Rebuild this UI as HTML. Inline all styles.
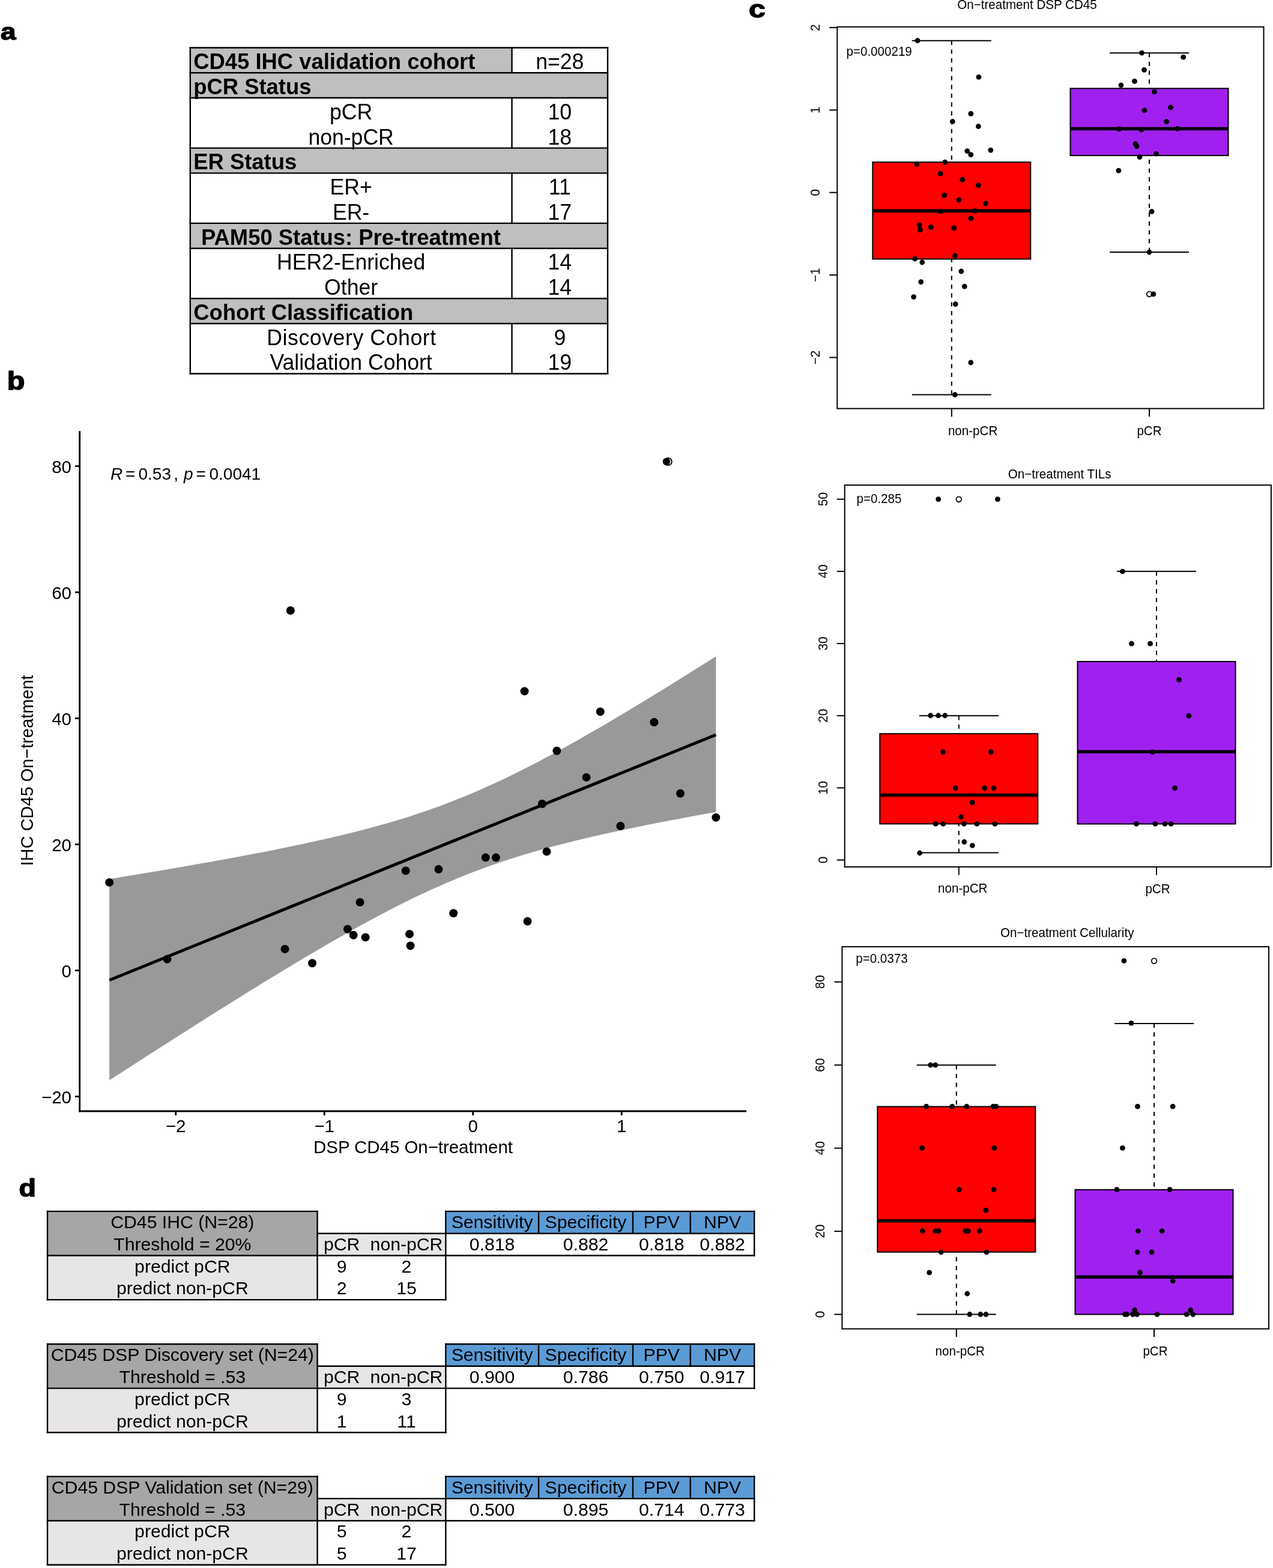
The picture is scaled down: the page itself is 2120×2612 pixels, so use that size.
<!DOCTYPE html>
<html><head><meta charset="utf-8"><title>Figure</title>
<style>
html,body{margin:0;padding:0;background:#fff;}
body{width:2120px;height:2612px;overflow:hidden;position:relative;}
svg{position:absolute;left:0;top:0;display:block;font-family:'Liberation Sans', Arial, Helvetica, sans-serif;}
</style></head><body>
<svg width="2120" height="2612" viewBox="0 0 2120 2612">
<rect x="0" y="0" width="2120" height="2612" fill="#fff"/>
<text x="0" y="0" font-size="44" font-weight="bold" stroke="#000" stroke-width="1.6" stroke-linejoin="round" transform="translate(1.0 66) scale(1.04 0.9)">a</text>
<text x="0" y="0" font-size="44" font-weight="bold" stroke="#000" stroke-width="1.6" stroke-linejoin="round" transform="translate(11.8 648.6) scale(1.1 0.955)">b</text>
<text x="0" y="0" font-size="44" font-weight="bold" stroke="#000" stroke-width="1.6" stroke-linejoin="round" transform="translate(1247.0 29.4) scale(1.13 0.92)">c</text>
<text x="0" y="0" font-size="44" font-weight="bold" stroke="#000" stroke-width="1.6" stroke-linejoin="round" transform="translate(31.6 1992.6) scale(1.06 0.935)">d</text>
<rect x="316.8" y="79.5" width="535.7" height="41.8" fill="#bfbfbf" stroke="none" stroke-width="0"/>
<rect x="316.8" y="121.3" width="695.2" height="41.8" fill="#bfbfbf" stroke="none" stroke-width="0"/>
<rect x="316.8" y="246.6" width="695.2" height="41.8" fill="#bfbfbf" stroke="none" stroke-width="0"/>
<rect x="316.8" y="371.9" width="695.2" height="41.8" fill="#bfbfbf" stroke="none" stroke-width="0"/>
<rect x="316.8" y="497.2" width="695.2" height="41.8" fill="#bfbfbf" stroke="none" stroke-width="0"/>
<line x1="315.6" y1="79.5" x2="1013.2" y2="79.5" stroke="#000" stroke-width="2.4" />
<line x1="315.6" y1="121.3" x2="1013.2" y2="121.3" stroke="#000" stroke-width="2.4" />
<line x1="315.6" y1="163.0" x2="1013.2" y2="163.0" stroke="#000" stroke-width="2.4" />
<line x1="315.6" y1="246.6" x2="1013.2" y2="246.6" stroke="#000" stroke-width="2.4" />
<line x1="315.6" y1="288.4" x2="1013.2" y2="288.4" stroke="#000" stroke-width="2.4" />
<line x1="315.6" y1="371.9" x2="1013.2" y2="371.9" stroke="#000" stroke-width="2.4" />
<line x1="315.6" y1="413.7" x2="1013.2" y2="413.7" stroke="#000" stroke-width="2.4" />
<line x1="315.6" y1="497.2" x2="1013.2" y2="497.2" stroke="#000" stroke-width="2.4" />
<line x1="315.6" y1="539.0" x2="1013.2" y2="539.0" stroke="#000" stroke-width="2.4" />
<line x1="315.6" y1="622.5" x2="1013.2" y2="622.5" stroke="#000" stroke-width="2.4" />
<line x1="316.8" y1="78.3" x2="316.8" y2="623.7" stroke="#000" stroke-width="2.4" />
<line x1="1012.0" y1="78.3" x2="1012.0" y2="623.7" stroke="#000" stroke-width="2.4" />
<line x1="852.5" y1="79.5" x2="852.5" y2="121.3" stroke="#000" stroke-width="2.4" />
<line x1="852.5" y1="163.0" x2="852.5" y2="246.6" stroke="#000" stroke-width="2.4" />
<line x1="852.5" y1="288.4" x2="852.5" y2="371.9" stroke="#000" stroke-width="2.4" />
<line x1="852.5" y1="413.7" x2="852.5" y2="497.2" stroke="#000" stroke-width="2.4" />
<line x1="852.5" y1="539.0" x2="852.5" y2="622.5" stroke="#000" stroke-width="2.4" />
<text x="322.3" y="115.3" font-size="36.4" text-anchor="start" font-weight="bold" fill="#000" transform="matrix(1 0 0 1.0 0 -0.00)" >CD45 IHC validation cohort</text>
<text x="932.3" y="115.3" font-size="35.6" text-anchor="middle" fill="#000" transform="matrix(1 0 0 1.045 0 -5.19)" >n=28</text>
<text x="322.3" y="157.0" font-size="36.4" text-anchor="start" font-weight="bold" fill="#000" transform="matrix(1 0 0 1.0 0 -0.00)" >pCR Status</text>
<text x="584.6" y="198.8" font-size="35.6" text-anchor="middle" fill="#000" transform="matrix(1 0 0 1.045 0 -8.95)" >pCR</text>
<text x="932.3" y="198.8" font-size="35.6" text-anchor="middle" fill="#000" transform="matrix(1 0 0 1.045 0 -8.95)" >10</text>
<text x="584.6" y="240.6" font-size="35.6" text-anchor="middle" fill="#000" transform="matrix(1 0 0 1.045 0 -10.83)" >non-pCR</text>
<text x="932.3" y="240.6" font-size="35.6" text-anchor="middle" fill="#000" transform="matrix(1 0 0 1.045 0 -10.83)" >18</text>
<text x="322.3" y="282.4" font-size="36.4" text-anchor="start" font-weight="bold" fill="#000" transform="matrix(1 0 0 1.0 0 -0.00)" >ER Status</text>
<text x="584.6" y="324.1" font-size="35.6" text-anchor="middle" fill="#000" transform="matrix(1 0 0 1.045 0 -14.59)" >ER+</text>
<text x="932.3" y="324.1" font-size="35.6" text-anchor="middle" fill="#000" transform="matrix(1 0 0 1.045 0 -14.59)" >11</text>
<text x="584.6" y="365.9" font-size="35.6" text-anchor="middle" fill="#000" transform="matrix(1 0 0 1.045 0 -16.47)" >ER-</text>
<text x="932.3" y="365.9" font-size="35.6" text-anchor="middle" fill="#000" transform="matrix(1 0 0 1.045 0 -16.47)" >17</text>
<text x="324.9" y="407.7" font-size="36.4" text-anchor="start" font-weight="bold" fill="#000" transform="matrix(1 0 0 1.0 0 -0.00)" > PAM50 Status: Pre-treatment</text>
<text x="584.6" y="449.4" font-size="35.6" text-anchor="middle" fill="#000" transform="matrix(1 0 0 1.045 0 -20.22)" >HER2-Enriched</text>
<text x="932.3" y="449.4" font-size="35.6" text-anchor="middle" fill="#000" transform="matrix(1 0 0 1.045 0 -20.22)" >14</text>
<text x="584.6" y="491.2" font-size="35.6" text-anchor="middle" fill="#000" transform="matrix(1 0 0 1.045 0 -22.10)" >Other</text>
<text x="932.3" y="491.2" font-size="35.6" text-anchor="middle" fill="#000" transform="matrix(1 0 0 1.045 0 -22.10)" >14</text>
<text x="322.3" y="533.0" font-size="36.4" text-anchor="start" font-weight="bold" fill="#000" transform="matrix(1 0 0 1.0 0 -0.00)" >Cohort Classification</text>
<text x="585.2" y="574.7" font-size="35.6" text-anchor="middle" fill="#000" transform="matrix(1 0 0 1.045 0 -25.86)" textLength="282" lengthAdjust="spacing">Discovery Cohort</text>
<text x="932.3" y="574.7" font-size="35.6" text-anchor="middle" fill="#000" transform="matrix(1 0 0 1.045 0 -25.86)" >9</text>
<text x="584.6" y="616.5" font-size="35.6" text-anchor="middle" fill="#000" transform="matrix(1 0 0 1.045 0 -27.74)" >Validation Cohort</text>
<text x="932.3" y="616.5" font-size="35.6" text-anchor="middle" fill="#000" transform="matrix(1 0 0 1.045 0 -27.74)" >19</text>
<polygon points="182.2,1464.2 195.0,1462.2 207.8,1460.1 220.6,1458.0 233.3,1455.8 246.1,1453.7 258.9,1451.6 271.7,1449.4 284.5,1447.2 297.3,1445.0 310.1,1442.8 322.8,1440.6 335.6,1438.3 348.4,1436.1 361.2,1433.8 374.0,1431.4 386.8,1429.1 399.6,1426.7 412.3,1424.3 425.1,1421.9 437.9,1419.4 450.7,1416.9 463.5,1414.3 476.3,1411.7 489.1,1409.1 501.9,1406.4 514.6,1403.6 527.4,1400.8 540.2,1398.0 553.0,1395.0 565.8,1392.0 578.6,1388.9 591.4,1385.7 604.1,1382.4 616.9,1379.0 629.7,1375.6 642.5,1371.9 655.3,1368.2 668.1,1364.4 680.9,1360.4 693.6,1356.2 706.4,1351.9 719.2,1347.5 732.0,1342.9 744.8,1338.1 757.6,1333.1 770.4,1328.0 783.1,1322.7 795.9,1317.3 808.7,1311.6 821.5,1305.8 834.3,1299.9 847.1,1293.8 859.9,1287.5 872.6,1281.1 885.4,1274.6 898.2,1267.9 911.0,1261.1 923.8,1254.2 936.6,1247.2 949.4,1240.1 962.2,1232.9 974.9,1225.6 987.7,1218.3 1000.5,1210.9 1013.3,1203.4 1026.1,1195.8 1038.9,1188.2 1051.7,1180.5 1064.4,1172.8 1077.2,1165.0 1090.0,1157.2 1102.8,1149.4 1115.6,1141.5 1128.4,1133.5 1141.2,1125.6 1153.9,1117.6 1166.7,1109.6 1179.5,1101.6 1192.3,1093.5 1192.3,1352.7 1179.5,1355.0 1166.7,1357.3 1153.9,1359.6 1141.2,1362.0 1128.4,1364.4 1115.6,1366.8 1102.8,1369.3 1090.0,1371.8 1077.2,1374.3 1064.4,1376.9 1051.7,1379.5 1038.9,1382.2 1026.1,1384.9 1013.3,1387.7 1000.5,1390.6 987.7,1393.5 974.9,1396.5 962.2,1399.5 949.4,1402.7 936.6,1405.9 923.8,1409.3 911.0,1412.7 898.2,1416.3 885.4,1420.0 872.6,1423.8 859.9,1427.7 847.1,1431.8 834.3,1436.1 821.5,1440.4 808.7,1445.0 795.9,1449.7 783.1,1454.6 770.4,1459.7 757.6,1464.9 744.8,1470.3 732.0,1475.9 719.2,1481.6 706.4,1487.5 693.6,1493.5 680.9,1499.7 668.1,1506.1 655.3,1512.6 642.5,1519.2 629.7,1526.0 616.9,1532.8 604.1,1539.8 591.4,1546.8 578.6,1554.0 565.8,1561.3 553.0,1568.6 540.2,1576.0 527.4,1583.5 514.6,1591.0 501.9,1598.6 489.1,1606.2 476.3,1614.0 463.5,1621.7 450.7,1629.5 437.9,1637.3 425.1,1645.2 412.3,1653.1 399.6,1661.1 386.8,1669.0 374.0,1677.0 361.2,1685.1 348.4,1693.1 335.6,1701.2 322.8,1709.3 310.1,1717.4 297.3,1725.5 284.5,1733.7 271.7,1741.9 258.9,1750.0 246.1,1758.2 233.3,1766.5 220.6,1774.7 207.8,1782.9 195.0,1791.2 182.2,1799.4" fill="#999999" stroke="none"/>
<line x1="182.2" y1="1632.7" x2="1192.3" y2="1224.0" stroke="#000" stroke-width="5.0"/>
<circle cx="182.2" cy="1469.9" r="7" fill="#000"/>
<circle cx="278.5" cy="1597.7" r="7" fill="#000"/>
<circle cx="474.5" cy="1580.9" r="7" fill="#000"/>
<circle cx="483.8" cy="1017.0" r="7" fill="#000"/>
<circle cx="520.0" cy="1604.5" r="7" fill="#000"/>
<circle cx="578.9" cy="1547.7" r="7" fill="#000"/>
<circle cx="588.6" cy="1557.8" r="7" fill="#000"/>
<circle cx="599.5" cy="1503.0" r="7" fill="#000"/>
<circle cx="608.6" cy="1561.4" r="7" fill="#000"/>
<circle cx="675.7" cy="1450.5" r="7" fill="#000"/>
<circle cx="682.0" cy="1556.0" r="7" fill="#000"/>
<circle cx="683.5" cy="1575.4" r="7" fill="#000"/>
<circle cx="730.4" cy="1448.0" r="7" fill="#000"/>
<circle cx="755.2" cy="1521.2" r="7" fill="#000"/>
<circle cx="808.7" cy="1428.6" r="7" fill="#000"/>
<circle cx="825.9" cy="1428.6" r="7" fill="#000"/>
<circle cx="873.5" cy="1151.4" r="7" fill="#000"/>
<circle cx="878.5" cy="1534.7" r="7" fill="#000"/>
<circle cx="902.9" cy="1339.0" r="7" fill="#000"/>
<circle cx="910.5" cy="1418.6" r="7" fill="#000"/>
<circle cx="927.3" cy="1250.7" r="7" fill="#000"/>
<circle cx="976.5" cy="1294.9" r="7" fill="#000"/>
<circle cx="999.7" cy="1185.5" r="7" fill="#000"/>
<circle cx="1033.3" cy="1376.0" r="7" fill="#000"/>
<circle cx="1089.3" cy="1203.1" r="7" fill="#000"/>
<circle cx="1133.0" cy="1321.8" r="7" fill="#000"/>
<circle cx="1192.3" cy="1361.8" r="7" fill="#000"/>
<circle cx="1109.9" cy="769" r="6.2" fill="#000"/>
<circle cx="1112.7" cy="769" r="6.1" fill="none" stroke="#000" stroke-width="1.9"/>
<line x1="132.7" y1="718.0" x2="132.7" y2="1852.4" stroke="#000" stroke-width="2.8" />
<line x1="131.3" y1="1851.0" x2="1243.0" y2="1851.0" stroke="#000" stroke-width="2.8" />
<line x1="125.0" y1="776.6" x2="132.7" y2="776.6" stroke="#000" stroke-width="2.8" />
<text x="119.0" y="787.9" font-size="29.5" text-anchor="end" fill="#000" transform="matrix(1 0 0 1.0 0 -0.00)" >80</text>
<line x1="125.0" y1="986.6" x2="132.7" y2="986.6" stroke="#000" stroke-width="2.8" />
<text x="119.0" y="997.9" font-size="29.5" text-anchor="end" fill="#000" transform="matrix(1 0 0 1.0 0 -0.00)" >60</text>
<line x1="125.0" y1="1196.6" x2="132.7" y2="1196.6" stroke="#000" stroke-width="2.8" />
<text x="119.0" y="1207.9" font-size="29.5" text-anchor="end" fill="#000" transform="matrix(1 0 0 1.0 0 -0.00)" >40</text>
<line x1="125.0" y1="1406.6" x2="132.7" y2="1406.6" stroke="#000" stroke-width="2.8" />
<text x="119.0" y="1417.9" font-size="29.5" text-anchor="end" fill="#000" transform="matrix(1 0 0 1.0 0 -0.00)" >20</text>
<line x1="125.0" y1="1616.6" x2="132.7" y2="1616.6" stroke="#000" stroke-width="2.8" />
<text x="119.0" y="1627.9" font-size="29.5" text-anchor="end" fill="#000" transform="matrix(1 0 0 1.0 0 -0.00)" >0</text>
<line x1="125.0" y1="1826.6" x2="132.7" y2="1826.6" stroke="#000" stroke-width="2.8" />
<text x="119.0" y="1837.9" font-size="29.5" text-anchor="end" fill="#000" transform="matrix(1 0 0 1.0 0 -0.00)" >−20</text>
<line x1="292.7" y1="1851.0" x2="292.7" y2="1858.0" stroke="#000" stroke-width="2.8" />
<text x="292.7" y="1885.8" font-size="29.5" text-anchor="middle" fill="#000" transform="matrix(1 0 0 1.0 0 -0.00)" >−2</text>
<line x1="540.2" y1="1851.0" x2="540.2" y2="1858.0" stroke="#000" stroke-width="2.8" />
<text x="540.2" y="1885.8" font-size="29.5" text-anchor="middle" fill="#000" transform="matrix(1 0 0 1.0 0 -0.00)" >−1</text>
<line x1="787.7" y1="1851.0" x2="787.7" y2="1858.0" stroke="#000" stroke-width="2.8" />
<text x="787.7" y="1885.8" font-size="29.5" text-anchor="middle" fill="#000" transform="matrix(1 0 0 1.0 0 -0.00)" >0</text>
<line x1="1035.2" y1="1851.0" x2="1035.2" y2="1858.0" stroke="#000" stroke-width="2.8" />
<text x="1035.2" y="1885.8" font-size="29.5" text-anchor="middle" fill="#000" transform="matrix(1 0 0 1.0 0 -0.00)" >1</text>
<text x="688.0" y="1921.0" font-size="29.4" text-anchor="middle" fill="#000" transform="matrix(1 0 0 1.0 0 -0.00)" >DSP CD45 On−treatment</text>
<text x="55.4" y="1283.5" font-size="29.0" text-anchor="middle" transform="rotate(-90 55.4 1283.5) matrix(1 0 0 1.045 0 -57.76)">IHC CD45 On−treatment</text>
<text y="799" font-size="28"><tspan x="184" font-style="italic">R</tspan><tspan x="208.9">=</tspan><tspan x="230.5">0.53</tspan><tspan x="289.3">,</tspan><tspan x="305.9" font-style="italic">p</tspan><tspan x="326.6">=</tspan><tspan x="348.5">0.0041</tspan></text>
<line x1="1584.8" y1="67.7" x2="1584.8" y2="270.1" stroke="#000" stroke-width="2" stroke-dasharray="7.2 7.5"/>
<line x1="1518.8" y1="67.7" x2="1650.8" y2="67.7" stroke="#000" stroke-width="2" />
<line x1="1584.8" y1="657.5" x2="1584.8" y2="431.5" stroke="#000" stroke-width="2" stroke-dasharray="7.2 7.5"/>
<line x1="1518.8" y1="657.5" x2="1650.8" y2="657.5" stroke="#000" stroke-width="2" />
<rect x="1453.3" y="270.1" width="263.0" height="161.4" fill="#ff0000" stroke="#000" stroke-width="2"/>
<line x1="1453.3" y1="351.3" x2="1716.3" y2="351.3" stroke="#000" stroke-width="5.5" />
<line x1="1914.0" y1="88.2" x2="1914.0" y2="147.3" stroke="#000" stroke-width="2" stroke-dasharray="7.2 7.5"/>
<line x1="1848.0" y1="88.2" x2="1980.0" y2="88.2" stroke="#000" stroke-width="2" />
<line x1="1914.0" y1="420.0" x2="1914.0" y2="259.1" stroke="#000" stroke-width="2" stroke-dasharray="7.2 7.5"/>
<line x1="1848.0" y1="420.0" x2="1980.0" y2="420.0" stroke="#000" stroke-width="2" />
<rect x="1782.5" y="147.3" width="263.0" height="111.8" fill="#a020f0" stroke="#000" stroke-width="2"/>
<line x1="1782.5" y1="214.5" x2="2045.5" y2="214.5" stroke="#000" stroke-width="5.5" />
<circle cx="1914.0" cy="490.0" r="4.3" fill="none" stroke="#000" stroke-width="1.8"/>
<circle cx="1528.1" cy="67.7" r="4.4" fill="#000"/>
<circle cx="1629.9" cy="128.3" r="4.4" fill="#000"/>
<circle cx="1616.8" cy="189.4" r="4.4" fill="#000"/>
<circle cx="1586.3" cy="202.5" r="4.4" fill="#000"/>
<circle cx="1629.4" cy="210.5" r="4.4" fill="#000"/>
<circle cx="1610.8" cy="251.6" r="4.4" fill="#000"/>
<circle cx="1616.8" cy="257.6" r="4.4" fill="#000"/>
<circle cx="1649.9" cy="250.1" r="4.4" fill="#000"/>
<circle cx="1526.6" cy="273.1" r="4.4" fill="#000"/>
<circle cx="1573.7" cy="270.1" r="4.4" fill="#000"/>
<circle cx="1566.2" cy="289.2" r="4.4" fill="#000"/>
<circle cx="1602.8" cy="299.2" r="4.4" fill="#000"/>
<circle cx="1629.4" cy="308.7" r="4.4" fill="#000"/>
<circle cx="1572.7" cy="325.2" r="4.4" fill="#000"/>
<circle cx="1596.8" cy="332.8" r="4.4" fill="#000"/>
<circle cx="1641.4" cy="338.8" r="4.4" fill="#000"/>
<circle cx="1566.2" cy="352.3" r="4.4" fill="#000"/>
<circle cx="1623.9" cy="351.3" r="4.4" fill="#000"/>
<circle cx="1531.1" cy="374.9" r="4.4" fill="#000"/>
<circle cx="1532.7" cy="382.9" r="4.4" fill="#000"/>
<circle cx="1550.2" cy="378.4" r="4.4" fill="#000"/>
<circle cx="1588.8" cy="379.9" r="4.4" fill="#000"/>
<circle cx="1616.8" cy="363.8" r="4.4" fill="#000"/>
<circle cx="1590.3" cy="426.0" r="4.4" fill="#000"/>
<circle cx="1523.6" cy="431.0" r="4.4" fill="#000"/>
<circle cx="1535.7" cy="437.0" r="4.4" fill="#000"/>
<circle cx="1600.8" cy="452.0" r="4.4" fill="#000"/>
<circle cx="1533.7" cy="469.6" r="4.4" fill="#000"/>
<circle cx="1606.3" cy="477.1" r="4.4" fill="#000"/>
<circle cx="1521.6" cy="494.6" r="4.4" fill="#000"/>
<circle cx="1591.3" cy="506.7" r="4.4" fill="#000"/>
<circle cx="1616.8" cy="603.9" r="4.4" fill="#000"/>
<circle cx="1590.3" cy="657.5" r="4.4" fill="#000"/>
<circle cx="1901.5" cy="88.2" r="4.4" fill="#000"/>
<circle cx="1970.7" cy="95.2" r="4.4" fill="#000"/>
<circle cx="1905.5" cy="116.3" r="4.4" fill="#000"/>
<circle cx="1889.5" cy="135.3" r="4.4" fill="#000"/>
<circle cx="1866.9" cy="141.8" r="4.4" fill="#000"/>
<circle cx="1922.6" cy="152.9" r="4.4" fill="#000"/>
<circle cx="1949.6" cy="178.9" r="4.4" fill="#000"/>
<circle cx="1906.0" cy="183.9" r="4.4" fill="#000"/>
<circle cx="1942.6" cy="202.5" r="4.4" fill="#000"/>
<circle cx="1863.9" cy="215.0" r="4.4" fill="#000"/>
<circle cx="1900.5" cy="216.0" r="4.4" fill="#000"/>
<circle cx="1960.6" cy="214.5" r="4.4" fill="#000"/>
<circle cx="1891.0" cy="239.6" r="4.4" fill="#000"/>
<circle cx="1893.0" cy="243.6" r="4.4" fill="#000"/>
<circle cx="1925.6" cy="256.1" r="4.4" fill="#000"/>
<circle cx="1898.0" cy="261.6" r="4.4" fill="#000"/>
<circle cx="1862.9" cy="284.2" r="4.4" fill="#000"/>
<circle cx="1918.0" cy="352.3" r="4.4" fill="#000"/>
<circle cx="1914.0" cy="420.0" r="4.4" fill="#000"/>
<circle cx="1920.8" cy="490.0" r="4.4" fill="#000"/>
<rect x="1394.3" y="44.8" width="710.2" height="635.8" fill="none" stroke="#000" stroke-width="2"/>
<line x1="1381.3" y1="595.5" x2="1394.3" y2="595.5" stroke="#000" stroke-width="2" />
<text x="1365.0" y="595.5" font-size="20.6" text-anchor="middle" transform="rotate(-90 1365.0 595.5) matrix(1 0 0 1.045 0 -26.80)">−2</text>
<line x1="1381.3" y1="458.1" x2="1394.3" y2="458.1" stroke="#000" stroke-width="2" />
<text x="1365.0" y="458.1" font-size="20.6" text-anchor="middle" transform="rotate(-90 1365.0 458.1) matrix(1 0 0 1.045 0 -20.61)">−1</text>
<line x1="1381.3" y1="320.7" x2="1394.3" y2="320.7" stroke="#000" stroke-width="2" />
<text x="1365.0" y="320.7" font-size="20.6" text-anchor="middle" transform="rotate(-90 1365.0 320.7) matrix(1 0 0 1.045 0 -14.43)">0</text>
<line x1="1381.3" y1="183.3" x2="1394.3" y2="183.3" stroke="#000" stroke-width="2" />
<text x="1365.0" y="183.3" font-size="20.6" text-anchor="middle" transform="rotate(-90 1365.0 183.3) matrix(1 0 0 1.045 0 -8.25)">1</text>
<line x1="1381.3" y1="45.9" x2="1394.3" y2="45.9" stroke="#000" stroke-width="2" />
<text x="1365.0" y="45.9" font-size="20.6" text-anchor="middle" transform="rotate(-90 1365.0 45.9) matrix(1 0 0 1.045 0 -2.07)">2</text>
<line x1="1584.8" y1="680.6" x2="1584.8" y2="694.1" stroke="#000" stroke-width="2" />
<line x1="1914.0" y1="680.6" x2="1914.0" y2="694.1" stroke="#000" stroke-width="2" />
<text x="1710.5" y="15.4" font-size="20.6" text-anchor="middle" fill="#000" transform="matrix(1 0 0 1.045 0 -0.69)" >On−treatment DSP CD45</text>
<text x="1409.5" y="92.7" font-size="20.6" text-anchor="start" fill="#000" transform="matrix(1 0 0 1.045 0 -4.17)" >p=0.000219</text>
<text x="1620.1" y="725.3" font-size="20.6" text-anchor="middle" fill="#000" transform="matrix(1 0 0 1.045 0 -32.64)" >non-pCR</text>
<text x="1914.0" y="725.5" font-size="20.6" text-anchor="middle" fill="#000" transform="matrix(1 0 0 1.045 0 -32.65)" >pCR</text>
<line x1="1596.8" y1="1192.2" x2="1596.8" y2="1222.2" stroke="#000" stroke-width="2" stroke-dasharray="7.2 7.5"/>
<line x1="1530.8" y1="1192.2" x2="1662.8" y2="1192.2" stroke="#000" stroke-width="2" />
<line x1="1596.8" y1="1420.6" x2="1596.8" y2="1372.5" stroke="#000" stroke-width="2" stroke-dasharray="7.2 7.5"/>
<line x1="1530.8" y1="1420.6" x2="1662.8" y2="1420.6" stroke="#000" stroke-width="2" />
<rect x="1465.3" y="1222.2" width="263.0" height="150.2" fill="#ff0000" stroke="#000" stroke-width="2"/>
<line x1="1465.3" y1="1324.4" x2="1728.3" y2="1324.4" stroke="#000" stroke-width="5.5" />
<line x1="1926.0" y1="951.8" x2="1926.0" y2="1102.0" stroke="#000" stroke-width="2" stroke-dasharray="7.2 7.5"/>
<line x1="1860.0" y1="951.8" x2="1992.0" y2="951.8" stroke="#000" stroke-width="2" />
<rect x="1794.5" y="1102.0" width="263.0" height="270.5" fill="#a020f0" stroke="#000" stroke-width="2"/>
<line x1="1794.5" y1="1252.3" x2="2057.5" y2="1252.3" stroke="#000" stroke-width="5.5" />
<circle cx="1596.8" cy="831.7" r="4.3" fill="none" stroke="#000" stroke-width="1.8"/>
<circle cx="1562.7" cy="831.7" r="4.4" fill="#000"/>
<circle cx="1661.4" cy="831.7" r="4.4" fill="#000"/>
<circle cx="1549.7" cy="1192.0" r="4.4" fill="#000"/>
<circle cx="1562.7" cy="1192.0" r="4.4" fill="#000"/>
<circle cx="1573.7" cy="1192.0" r="4.4" fill="#000"/>
<circle cx="1570.7" cy="1252.6" r="4.4" fill="#000"/>
<circle cx="1650.4" cy="1252.6" r="4.4" fill="#000"/>
<circle cx="1591.3" cy="1312.8" r="4.4" fill="#000"/>
<circle cx="1639.9" cy="1312.8" r="4.4" fill="#000"/>
<circle cx="1654.9" cy="1312.8" r="4.4" fill="#000"/>
<circle cx="1619.3" cy="1336.8" r="4.4" fill="#000"/>
<circle cx="1600.3" cy="1360.9" r="4.4" fill="#000"/>
<circle cx="1558.2" cy="1372.4" r="4.4" fill="#000"/>
<circle cx="1570.7" cy="1372.4" r="4.4" fill="#000"/>
<circle cx="1605.3" cy="1372.4" r="4.4" fill="#000"/>
<circle cx="1626.9" cy="1372.4" r="4.4" fill="#000"/>
<circle cx="1656.9" cy="1372.4" r="4.4" fill="#000"/>
<circle cx="1605.8" cy="1402.5" r="4.4" fill="#000"/>
<circle cx="1619.3" cy="1408.5" r="4.4" fill="#000"/>
<circle cx="1531.6" cy="1421.0" r="4.4" fill="#000"/>
<circle cx="1869.4" cy="951.9" r="4.4" fill="#000"/>
<circle cx="1884.5" cy="1072.2" r="4.4" fill="#000"/>
<circle cx="1915.5" cy="1072.2" r="4.4" fill="#000"/>
<circle cx="1963.6" cy="1132.4" r="4.4" fill="#000"/>
<circle cx="1979.7" cy="1192.5" r="4.4" fill="#000"/>
<circle cx="1919.5" cy="1252.6" r="4.4" fill="#000"/>
<circle cx="1956.6" cy="1312.8" r="4.4" fill="#000"/>
<circle cx="1892.5" cy="1372.4" r="4.4" fill="#000"/>
<circle cx="1924.0" cy="1372.4" r="4.4" fill="#000"/>
<circle cx="1940.1" cy="1372.4" r="4.4" fill="#000"/>
<circle cx="1950.1" cy="1372.4" r="4.4" fill="#000"/>
<rect x="1406.7" y="808.1" width="710.2" height="636.0" fill="none" stroke="#000" stroke-width="2"/>
<line x1="1393.7" y1="1432.6" x2="1406.7" y2="1432.6" stroke="#000" stroke-width="2" />
<text x="1377.6" y="1432.6" font-size="20.6" text-anchor="middle" transform="rotate(-90 1377.6 1432.6) matrix(1 0 0 1.045 0 -64.47)">0</text>
<line x1="1393.7" y1="1312.4" x2="1406.7" y2="1312.4" stroke="#000" stroke-width="2" />
<text x="1377.6" y="1312.4" font-size="20.6" text-anchor="middle" transform="rotate(-90 1377.6 1312.4) matrix(1 0 0 1.045 0 -59.06)">10</text>
<line x1="1393.7" y1="1192.2" x2="1406.7" y2="1192.2" stroke="#000" stroke-width="2" />
<text x="1377.6" y="1192.2" font-size="20.6" text-anchor="middle" transform="rotate(-90 1377.6 1192.2) matrix(1 0 0 1.045 0 -53.65)">20</text>
<line x1="1393.7" y1="1072.0" x2="1406.7" y2="1072.0" stroke="#000" stroke-width="2" />
<text x="1377.6" y="1072.0" font-size="20.6" text-anchor="middle" transform="rotate(-90 1377.6 1072.0) matrix(1 0 0 1.045 0 -48.24)">30</text>
<line x1="1393.7" y1="951.8" x2="1406.7" y2="951.8" stroke="#000" stroke-width="2" />
<text x="1377.6" y="951.8" font-size="20.6" text-anchor="middle" transform="rotate(-90 1377.6 951.8) matrix(1 0 0 1.045 0 -42.83)">40</text>
<line x1="1393.7" y1="831.6" x2="1406.7" y2="831.6" stroke="#000" stroke-width="2" />
<text x="1377.6" y="831.6" font-size="20.6" text-anchor="middle" transform="rotate(-90 1377.6 831.6) matrix(1 0 0 1.045 0 -37.42)">50</text>
<line x1="1596.8" y1="1444.1" x2="1596.8" y2="1457.6" stroke="#000" stroke-width="2" />
<line x1="1926.0" y1="1444.1" x2="1926.0" y2="1457.6" stroke="#000" stroke-width="2" />
<text x="1764.7" y="797.0" font-size="20.6" text-anchor="middle" fill="#000" transform="matrix(1 0 0 1.045 0 -35.86)" >On−treatment TILs</text>
<text x="1426.5" y="837.9" font-size="20.6" text-anchor="start" fill="#000" transform="matrix(1 0 0 1.045 0 -37.71)" >p=0.285</text>
<text x="1603.3" y="1486.6" font-size="20.6" text-anchor="middle" fill="#000" transform="matrix(1 0 0 1.045 0 -66.90)" >non-pCR</text>
<text x="1928.0" y="1488.3" font-size="20.6" text-anchor="middle" fill="#000" transform="matrix(1 0 0 1.045 0 -66.97)" >pCR</text>
<line x1="1592.8" y1="1774.2" x2="1592.8" y2="1843.4" stroke="#000" stroke-width="2" stroke-dasharray="7.2 7.5"/>
<line x1="1526.8" y1="1774.2" x2="1658.8" y2="1774.2" stroke="#000" stroke-width="2" />
<line x1="1592.8" y1="2189.5" x2="1592.8" y2="2085.7" stroke="#000" stroke-width="2" stroke-dasharray="7.2 7.5"/>
<line x1="1526.8" y1="2189.5" x2="1658.8" y2="2189.5" stroke="#000" stroke-width="2" />
<rect x="1461.3" y="1843.4" width="263.0" height="242.3" fill="#ff0000" stroke="#000" stroke-width="2"/>
<line x1="1461.3" y1="2033.7" x2="1724.3" y2="2033.7" stroke="#000" stroke-width="5.5" />
<line x1="1922.0" y1="1704.9" x2="1922.0" y2="1981.8" stroke="#000" stroke-width="2" stroke-dasharray="7.2 7.5"/>
<line x1="1856.0" y1="1704.9" x2="1988.0" y2="1704.9" stroke="#000" stroke-width="2" />
<rect x="1790.5" y="1981.8" width="263.0" height="207.7" fill="#a020f0" stroke="#000" stroke-width="2"/>
<line x1="1790.5" y1="2127.2" x2="2053.5" y2="2127.2" stroke="#000" stroke-width="5.5" />
<circle cx="1922.0" cy="1600.7" r="4.3" fill="none" stroke="#000" stroke-width="1.8"/>
<circle cx="1549.7" cy="1774.1" r="4.4" fill="#000"/>
<circle cx="1557.7" cy="1774.1" r="4.4" fill="#000"/>
<circle cx="1542.7" cy="1843.2" r="4.4" fill="#000"/>
<circle cx="1585.8" cy="1843.2" r="4.4" fill="#000"/>
<circle cx="1609.8" cy="1843.2" r="4.4" fill="#000"/>
<circle cx="1653.9" cy="1843.2" r="4.4" fill="#000"/>
<circle cx="1658.9" cy="1843.2" r="4.4" fill="#000"/>
<circle cx="1535.7" cy="1912.4" r="4.4" fill="#000"/>
<circle cx="1655.9" cy="1912.4" r="4.4" fill="#000"/>
<circle cx="1597.3" cy="1981.6" r="4.4" fill="#000"/>
<circle cx="1654.9" cy="1981.6" r="4.4" fill="#000"/>
<circle cx="1641.9" cy="2016.1" r="4.4" fill="#000"/>
<circle cx="1536.2" cy="2050.7" r="4.4" fill="#000"/>
<circle cx="1557.7" cy="2050.7" r="4.4" fill="#000"/>
<circle cx="1563.2" cy="2050.7" r="4.4" fill="#000"/>
<circle cx="1607.8" cy="2050.7" r="4.4" fill="#000"/>
<circle cx="1612.3" cy="2050.7" r="4.4" fill="#000"/>
<circle cx="1631.4" cy="2050.7" r="4.4" fill="#000"/>
<circle cx="1567.2" cy="2085.8" r="4.4" fill="#000"/>
<circle cx="1642.9" cy="2085.8" r="4.4" fill="#000"/>
<circle cx="1547.7" cy="2119.9" r="4.4" fill="#000"/>
<circle cx="1610.8" cy="2155.0" r="4.4" fill="#000"/>
<circle cx="1614.8" cy="2189.5" r="4.4" fill="#000"/>
<circle cx="1632.9" cy="2189.5" r="4.4" fill="#000"/>
<circle cx="1641.9" cy="2189.5" r="4.4" fill="#000"/>
<circle cx="1871.9" cy="1600.7" r="4.4" fill="#000"/>
<circle cx="1883.9" cy="1704.4" r="4.4" fill="#000"/>
<circle cx="1894.5" cy="1843.2" r="4.4" fill="#000"/>
<circle cx="1953.1" cy="1843.2" r="4.4" fill="#000"/>
<circle cx="1869.4" cy="1912.4" r="4.4" fill="#000"/>
<circle cx="1859.9" cy="1981.6" r="4.4" fill="#000"/>
<circle cx="1948.1" cy="1981.6" r="4.4" fill="#000"/>
<circle cx="1895.5" cy="2050.7" r="4.4" fill="#000"/>
<circle cx="1935.1" cy="2050.7" r="4.4" fill="#000"/>
<circle cx="1894.0" cy="2085.8" r="4.4" fill="#000"/>
<circle cx="1918.0" cy="2085.8" r="4.4" fill="#000"/>
<circle cx="1898.5" cy="2119.9" r="4.4" fill="#000"/>
<circle cx="1953.1" cy="2133.9" r="4.4" fill="#000"/>
<circle cx="1889.5" cy="2182.5" r="4.4" fill="#000"/>
<circle cx="1982.7" cy="2182.5" r="4.4" fill="#000"/>
<circle cx="1873.4" cy="2189.5" r="4.4" fill="#000"/>
<circle cx="1876.8" cy="2189.5" r="4.4" fill="#000"/>
<circle cx="1886.5" cy="2189.5" r="4.4" fill="#000"/>
<circle cx="1893.5" cy="2189.5" r="4.4" fill="#000"/>
<circle cx="1927.1" cy="2189.5" r="4.4" fill="#000"/>
<circle cx="1976.2" cy="2189.5" r="4.4" fill="#000"/>
<circle cx="1986.7" cy="2189.5" r="4.4" fill="#000"/>
<rect x="1402.4" y="1577.1" width="710.6" height="636.5" fill="none" stroke="#000" stroke-width="2"/>
<line x1="1389.4" y1="2189.5" x2="1402.4" y2="2189.5" stroke="#000" stroke-width="2" />
<text x="1373.2" y="2189.5" font-size="20.6" text-anchor="middle" transform="rotate(-90 1373.2 2189.5) matrix(1 0 0 1.045 0 -98.53)">0</text>
<line x1="1389.4" y1="2051.1" x2="1402.4" y2="2051.1" stroke="#000" stroke-width="2" />
<text x="1373.2" y="2051.1" font-size="20.6" text-anchor="middle" transform="rotate(-90 1373.2 2051.1) matrix(1 0 0 1.045 0 -92.30)">20</text>
<line x1="1389.4" y1="1912.6" x2="1402.4" y2="1912.6" stroke="#000" stroke-width="2" />
<text x="1373.2" y="1912.6" font-size="20.6" text-anchor="middle" transform="rotate(-90 1373.2 1912.6) matrix(1 0 0 1.045 0 -86.07)">40</text>
<line x1="1389.4" y1="1774.2" x2="1402.4" y2="1774.2" stroke="#000" stroke-width="2" />
<text x="1373.2" y="1774.2" font-size="20.6" text-anchor="middle" transform="rotate(-90 1373.2 1774.2) matrix(1 0 0 1.045 0 -79.84)">60</text>
<line x1="1389.4" y1="1635.7" x2="1402.4" y2="1635.7" stroke="#000" stroke-width="2" />
<text x="1373.2" y="1635.7" font-size="20.6" text-anchor="middle" transform="rotate(-90 1373.2 1635.7) matrix(1 0 0 1.045 0 -73.61)">80</text>
<line x1="1592.8" y1="2213.6" x2="1592.8" y2="2227.1" stroke="#000" stroke-width="2" />
<line x1="1922.0" y1="2213.6" x2="1922.0" y2="2227.1" stroke="#000" stroke-width="2" />
<text x="1777.2" y="1561.0" font-size="20.6" text-anchor="middle" fill="#000" transform="matrix(1 0 0 1.045 0 -70.24)" >On−treatment Cellularity</text>
<text x="1425.2" y="1604.0" font-size="20.6" text-anchor="start" fill="#000" transform="matrix(1 0 0 1.045 0 -72.18)" >p=0.0373</text>
<text x="1598.8" y="2257.6" font-size="20.6" text-anchor="middle" fill="#000" transform="matrix(1 0 0 1.045 0 -101.59)" >non-pCR</text>
<text x="1924.0" y="2257.6" font-size="20.6" text-anchor="middle" fill="#000" transform="matrix(1 0 0 1.045 0 -101.59)" >pCR</text>
<rect x="79.0" y="2017.9" width="449.5" height="73.6" fill="#a6a6a6" stroke="none" stroke-width="0"/>
<rect x="79.0" y="2091.5" width="449.5" height="73.6" fill="#e8e5e6" stroke="none" stroke-width="0"/>
<rect x="528.5" y="2054.7" width="213.8" height="36.8" fill="#e8e5e6" stroke="none" stroke-width="0"/>
<rect x="742.3" y="2017.9" width="513.9" height="36.8" fill="#5b9bd5" stroke="none" stroke-width="0"/>
<line x1="77.8" y1="2017.9" x2="529.7" y2="2017.9" stroke="#000" stroke-width="2.4" />
<line x1="741.1" y1="2017.9" x2="1257.4" y2="2017.9" stroke="#000" stroke-width="2.4" />
<line x1="528.5" y1="2054.7" x2="1257.4" y2="2054.7" stroke="#000" stroke-width="2.4" />
<line x1="77.8" y1="2091.5" x2="1257.4" y2="2091.5" stroke="#000" stroke-width="2.4" />
<line x1="77.8" y1="2165.1" x2="743.5" y2="2165.1" stroke="#000" stroke-width="2.4" />
<line x1="79.0" y1="2016.7" x2="79.0" y2="2166.3" stroke="#000" stroke-width="2.4" />
<line x1="528.5" y1="2016.7" x2="528.5" y2="2166.3" stroke="#000" stroke-width="2.4" />
<line x1="742.3" y1="2016.7" x2="742.3" y2="2166.3" stroke="#000" stroke-width="2.4" />
<line x1="1256.2" y1="2016.7" x2="1256.2" y2="2092.7" stroke="#000" stroke-width="2.4" />
<line x1="897.0" y1="2017.9" x2="897.0" y2="2054.7" stroke="#000" stroke-width="2.4" />
<line x1="1054.0" y1="2017.9" x2="1054.0" y2="2054.7" stroke="#000" stroke-width="2.4" />
<line x1="1149.7" y1="2017.9" x2="1149.7" y2="2054.7" stroke="#000" stroke-width="2.4" />
<text x="303.8" y="2046.0" font-size="30.2" text-anchor="middle" fill="#000" transform="matrix(1 0 0 1.0 0 -0.00)" >CD45 IHC (N=28)</text>
<text x="303.8" y="2082.8" font-size="30.2" text-anchor="middle" fill="#000" transform="matrix(1 0 0 1.0 0 -0.00)" >Threshold = 20%</text>
<text x="303.8" y="2119.6" font-size="30.2" text-anchor="middle" fill="#000" transform="matrix(1 0 0 1.0 0 -0.00)" >predict pCR</text>
<text x="303.8" y="2156.4" font-size="30.2" text-anchor="middle" fill="#000" transform="matrix(1 0 0 1.0 0 -0.00)" >predict non-pCR</text>
<text x="569.2" y="2082.8" font-size="30.2" text-anchor="middle" fill="#000" transform="matrix(1 0 0 1.0 0 -0.00)" >pCR</text>
<text x="677.0" y="2082.8" font-size="30.2" text-anchor="middle" fill="#000" transform="matrix(1 0 0 1.0 0 -0.00)" >non-pCR</text>
<text x="569.2" y="2119.6" font-size="30.2" text-anchor="middle" fill="#000" transform="matrix(1 0 0 1.0 0 -0.00)" >9</text>
<text x="677.0" y="2119.6" font-size="30.2" text-anchor="middle" fill="#000" transform="matrix(1 0 0 1.0 0 -0.00)" >2</text>
<text x="569.2" y="2156.4" font-size="30.2" text-anchor="middle" fill="#000" transform="matrix(1 0 0 1.0 0 -0.00)" >2</text>
<text x="677.0" y="2156.4" font-size="30.2" text-anchor="middle" fill="#000" transform="matrix(1 0 0 1.0 0 -0.00)" >15</text>
<text x="819.6" y="2046.0" font-size="30.2" text-anchor="middle" fill="#000" transform="matrix(1 0 0 1.0 0 -0.00)" >Sensitivity</text>
<text x="819.6" y="2082.8" font-size="30.2" text-anchor="middle" fill="#000" transform="matrix(1 0 0 1.0 0 -0.00)" >0.818</text>
<text x="975.5" y="2046.0" font-size="30.2" text-anchor="middle" fill="#000" transform="matrix(1 0 0 1.0 0 -0.00)" >Specificity</text>
<text x="975.5" y="2082.8" font-size="30.2" text-anchor="middle" fill="#000" transform="matrix(1 0 0 1.0 0 -0.00)" >0.882</text>
<text x="1101.8" y="2046.0" font-size="30.2" text-anchor="middle" fill="#000" transform="matrix(1 0 0 1.0 0 -0.00)" >PPV</text>
<text x="1101.8" y="2082.8" font-size="30.2" text-anchor="middle" fill="#000" transform="matrix(1 0 0 1.0 0 -0.00)" >0.818</text>
<text x="1203.0" y="2046.0" font-size="30.2" text-anchor="middle" fill="#000" transform="matrix(1 0 0 1.0 0 -0.00)" >NPV</text>
<text x="1203.0" y="2082.8" font-size="30.2" text-anchor="middle" fill="#000" transform="matrix(1 0 0 1.0 0 -0.00)" >0.882</text>
<rect x="79.0" y="2239.0" width="449.5" height="73.6" fill="#a6a6a6" stroke="none" stroke-width="0"/>
<rect x="79.0" y="2312.6" width="449.5" height="73.6" fill="#e8e5e6" stroke="none" stroke-width="0"/>
<rect x="528.5" y="2275.8" width="213.8" height="36.8" fill="#e8e5e6" stroke="none" stroke-width="0"/>
<rect x="742.3" y="2239.0" width="513.9" height="36.8" fill="#5b9bd5" stroke="none" stroke-width="0"/>
<line x1="77.8" y1="2239.0" x2="529.7" y2="2239.0" stroke="#000" stroke-width="2.4" />
<line x1="741.1" y1="2239.0" x2="1257.4" y2="2239.0" stroke="#000" stroke-width="2.4" />
<line x1="528.5" y1="2275.8" x2="1257.4" y2="2275.8" stroke="#000" stroke-width="2.4" />
<line x1="77.8" y1="2312.6" x2="1257.4" y2="2312.6" stroke="#000" stroke-width="2.4" />
<line x1="77.8" y1="2386.2" x2="743.5" y2="2386.2" stroke="#000" stroke-width="2.4" />
<line x1="79.0" y1="2237.8" x2="79.0" y2="2387.4" stroke="#000" stroke-width="2.4" />
<line x1="528.5" y1="2237.8" x2="528.5" y2="2387.4" stroke="#000" stroke-width="2.4" />
<line x1="742.3" y1="2237.8" x2="742.3" y2="2387.4" stroke="#000" stroke-width="2.4" />
<line x1="1256.2" y1="2237.8" x2="1256.2" y2="2313.8" stroke="#000" stroke-width="2.4" />
<line x1="897.0" y1="2239.0" x2="897.0" y2="2275.8" stroke="#000" stroke-width="2.4" />
<line x1="1054.0" y1="2239.0" x2="1054.0" y2="2275.8" stroke="#000" stroke-width="2.4" />
<line x1="1149.7" y1="2239.0" x2="1149.7" y2="2275.8" stroke="#000" stroke-width="2.4" />
<text x="303.8" y="2267.1" font-size="30.2" text-anchor="middle" fill="#000" transform="matrix(1 0 0 1.0 0 -0.00)" >CD45 DSP Discovery set (N=24)</text>
<text x="303.8" y="2303.9" font-size="30.2" text-anchor="middle" fill="#000" transform="matrix(1 0 0 1.0 0 -0.00)" >Threshold = .53</text>
<text x="303.8" y="2340.7" font-size="30.2" text-anchor="middle" fill="#000" transform="matrix(1 0 0 1.0 0 -0.00)" >predict pCR</text>
<text x="303.8" y="2377.5" font-size="30.2" text-anchor="middle" fill="#000" transform="matrix(1 0 0 1.0 0 -0.00)" >predict non-pCR</text>
<text x="569.2" y="2303.9" font-size="30.2" text-anchor="middle" fill="#000" transform="matrix(1 0 0 1.0 0 -0.00)" >pCR</text>
<text x="677.0" y="2303.9" font-size="30.2" text-anchor="middle" fill="#000" transform="matrix(1 0 0 1.0 0 -0.00)" >non-pCR</text>
<text x="569.2" y="2340.7" font-size="30.2" text-anchor="middle" fill="#000" transform="matrix(1 0 0 1.0 0 -0.00)" >9</text>
<text x="677.0" y="2340.7" font-size="30.2" text-anchor="middle" fill="#000" transform="matrix(1 0 0 1.0 0 -0.00)" >3</text>
<text x="569.2" y="2377.5" font-size="30.2" text-anchor="middle" fill="#000" transform="matrix(1 0 0 1.0 0 -0.00)" >1</text>
<text x="677.0" y="2377.5" font-size="30.2" text-anchor="middle" fill="#000" transform="matrix(1 0 0 1.0 0 -0.00)" >11</text>
<text x="819.6" y="2267.1" font-size="30.2" text-anchor="middle" fill="#000" transform="matrix(1 0 0 1.0 0 -0.00)" >Sensitivity</text>
<text x="819.6" y="2303.9" font-size="30.2" text-anchor="middle" fill="#000" transform="matrix(1 0 0 1.0 0 -0.00)" >0.900</text>
<text x="975.5" y="2267.1" font-size="30.2" text-anchor="middle" fill="#000" transform="matrix(1 0 0 1.0 0 -0.00)" >Specificity</text>
<text x="975.5" y="2303.9" font-size="30.2" text-anchor="middle" fill="#000" transform="matrix(1 0 0 1.0 0 -0.00)" >0.786</text>
<text x="1101.8" y="2267.1" font-size="30.2" text-anchor="middle" fill="#000" transform="matrix(1 0 0 1.0 0 -0.00)" >PPV</text>
<text x="1101.8" y="2303.9" font-size="30.2" text-anchor="middle" fill="#000" transform="matrix(1 0 0 1.0 0 -0.00)" >0.750</text>
<text x="1203.0" y="2267.1" font-size="30.2" text-anchor="middle" fill="#000" transform="matrix(1 0 0 1.0 0 -0.00)" >NPV</text>
<text x="1203.0" y="2303.9" font-size="30.2" text-anchor="middle" fill="#000" transform="matrix(1 0 0 1.0 0 -0.00)" >0.917</text>
<rect x="79.0" y="2459.6" width="449.5" height="73.6" fill="#a6a6a6" stroke="none" stroke-width="0"/>
<rect x="79.0" y="2533.2" width="449.5" height="73.6" fill="#e8e5e6" stroke="none" stroke-width="0"/>
<rect x="528.5" y="2496.4" width="213.8" height="36.8" fill="#e8e5e6" stroke="none" stroke-width="0"/>
<rect x="742.3" y="2459.6" width="513.9" height="36.8" fill="#5b9bd5" stroke="none" stroke-width="0"/>
<line x1="77.8" y1="2459.6" x2="529.7" y2="2459.6" stroke="#000" stroke-width="2.4" />
<line x1="741.1" y1="2459.6" x2="1257.4" y2="2459.6" stroke="#000" stroke-width="2.4" />
<line x1="528.5" y1="2496.4" x2="1257.4" y2="2496.4" stroke="#000" stroke-width="2.4" />
<line x1="77.8" y1="2533.2" x2="1257.4" y2="2533.2" stroke="#000" stroke-width="2.4" />
<line x1="77.8" y1="2606.8" x2="743.5" y2="2606.8" stroke="#000" stroke-width="2.4" />
<line x1="79.0" y1="2458.4" x2="79.0" y2="2608.0" stroke="#000" stroke-width="2.4" />
<line x1="528.5" y1="2458.4" x2="528.5" y2="2608.0" stroke="#000" stroke-width="2.4" />
<line x1="742.3" y1="2458.4" x2="742.3" y2="2608.0" stroke="#000" stroke-width="2.4" />
<line x1="1256.2" y1="2458.4" x2="1256.2" y2="2534.4" stroke="#000" stroke-width="2.4" />
<line x1="897.0" y1="2459.6" x2="897.0" y2="2496.4" stroke="#000" stroke-width="2.4" />
<line x1="1054.0" y1="2459.6" x2="1054.0" y2="2496.4" stroke="#000" stroke-width="2.4" />
<line x1="1149.7" y1="2459.6" x2="1149.7" y2="2496.4" stroke="#000" stroke-width="2.4" />
<text x="303.8" y="2487.7" font-size="30.2" text-anchor="middle" fill="#000" transform="matrix(1 0 0 1.0 0 -0.00)" >CD45 DSP Validation set (N=29)</text>
<text x="303.8" y="2524.5" font-size="30.2" text-anchor="middle" fill="#000" transform="matrix(1 0 0 1.0 0 -0.00)" >Threshold = .53</text>
<text x="303.8" y="2561.3" font-size="30.2" text-anchor="middle" fill="#000" transform="matrix(1 0 0 1.0 0 -0.00)" >predict pCR</text>
<text x="303.8" y="2598.1" font-size="30.2" text-anchor="middle" fill="#000" transform="matrix(1 0 0 1.0 0 -0.00)" >predict non-pCR</text>
<text x="569.2" y="2524.5" font-size="30.2" text-anchor="middle" fill="#000" transform="matrix(1 0 0 1.0 0 -0.00)" >pCR</text>
<text x="677.0" y="2524.5" font-size="30.2" text-anchor="middle" fill="#000" transform="matrix(1 0 0 1.0 0 -0.00)" >non-pCR</text>
<text x="569.2" y="2561.3" font-size="30.2" text-anchor="middle" fill="#000" transform="matrix(1 0 0 1.0 0 -0.00)" >5</text>
<text x="677.0" y="2561.3" font-size="30.2" text-anchor="middle" fill="#000" transform="matrix(1 0 0 1.0 0 -0.00)" >2</text>
<text x="569.2" y="2598.1" font-size="30.2" text-anchor="middle" fill="#000" transform="matrix(1 0 0 1.0 0 -0.00)" >5</text>
<text x="677.0" y="2598.1" font-size="30.2" text-anchor="middle" fill="#000" transform="matrix(1 0 0 1.0 0 -0.00)" >17</text>
<text x="819.6" y="2487.7" font-size="30.2" text-anchor="middle" fill="#000" transform="matrix(1 0 0 1.0 0 -0.00)" >Sensitivity</text>
<text x="819.6" y="2524.5" font-size="30.2" text-anchor="middle" fill="#000" transform="matrix(1 0 0 1.0 0 -0.00)" >0.500</text>
<text x="975.5" y="2487.7" font-size="30.2" text-anchor="middle" fill="#000" transform="matrix(1 0 0 1.0 0 -0.00)" >Specificity</text>
<text x="975.5" y="2524.5" font-size="30.2" text-anchor="middle" fill="#000" transform="matrix(1 0 0 1.0 0 -0.00)" >0.895</text>
<text x="1101.8" y="2487.7" font-size="30.2" text-anchor="middle" fill="#000" transform="matrix(1 0 0 1.0 0 -0.00)" >PPV</text>
<text x="1101.8" y="2524.5" font-size="30.2" text-anchor="middle" fill="#000" transform="matrix(1 0 0 1.0 0 -0.00)" >0.714</text>
<text x="1203.0" y="2487.7" font-size="30.2" text-anchor="middle" fill="#000" transform="matrix(1 0 0 1.0 0 -0.00)" >NPV</text>
<text x="1203.0" y="2524.5" font-size="30.2" text-anchor="middle" fill="#000" transform="matrix(1 0 0 1.0 0 -0.00)" >0.773</text>
</svg>
</body></html>
